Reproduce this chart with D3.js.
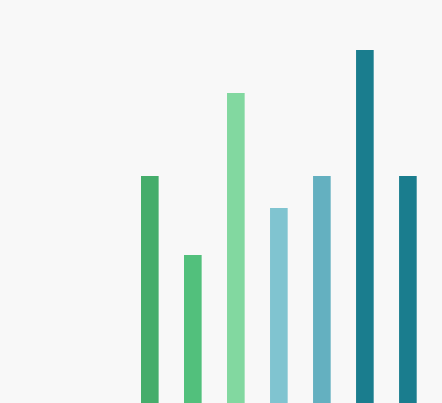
<!DOCTYPE html>
<meta charset="utf-8">
<script src="https://d3js.org/d3.v7.min.js"></script>
<style>
  html, body { margin: 0; padding: 0; background: #f8f8f8; overflow: hidden; }
</style>
<div id="my_dataviz"></div>
<script>

// bar categories and values
var categories = ["a", "b", "c", "d", "e", "f", "g"];
var values = [227, 148, 310, 195, 227, 353, 227];
var colors = ["#45ad6b", "#52c07c", "#82d8a0", "#80c4d0", "#64b0c0", "#1a7d8e", "#1a7d8e"];

var width = 442, height = 403;

var svg = d3.select("#my_dataviz")
  .append("svg")
    .attr("width", width)
    .attr("height", height);

// x scale: bands between the first and last bar
var x = d3.scaleBand()
  .domain(categories)
  .range([141, 416.7])
  .paddingInner(0.59)
  .paddingOuter(0);

// y scale: baseline sits at the bottom edge
var y = d3.scaleLinear()
  .domain([0, 400])
  .range([height, height - 400]);

svg.selectAll("rect")
  .data(values)
  .enter()
  .append("rect")
    .attr("x", function(d, i){ return x(categories[i]) })
    .attr("y", function(d){ return y(d) })
    .attr("width", x.bandwidth())
    .attr("height", function(d){ return y(0) - y(d) })
    .style("fill", function(d, i){ return colors[i] })

</script>
